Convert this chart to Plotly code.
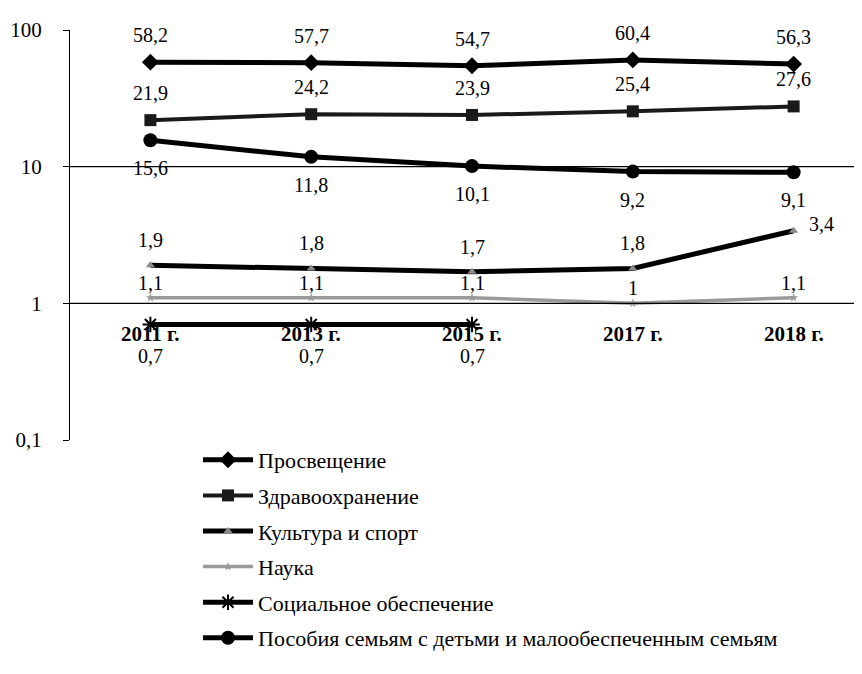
"""Расходы бюджета по направлениям, % (логарифмическая шкала)"""
import math

import plotly.graph_objects as go

years = ["2011 г.", "2013 г.", "2015 г.", "2017 г.", "2018 г."]

prosveshchenie = [58.2, 57.7, 54.7, 60.4, 56.3]
zdravookhranenie = [21.9, 24.2, 23.9, 25.4, 27.6]
kultura_sport = [1.9, 1.8, 1.7, 1.8, 3.4]
nauka = [1.1, 1.1, 1.1, 1.0, 1.1]
sots_obespechenie = [0.7, 0.7, 0.7]
posobiya = [15.6, 11.8, 10.1, 9.2, 9.1]

y_ticks = [0.1, 1, 10, 100]
y_tick_labels = ["0,1", "1", "10", "100"]

FONT = "Liberation Serif, Times New Roman, serif"

# name, values, line colour, line width, marker, label shift (px)
series = [
    ("Просвещение", prosveshchenie, "black", 5,
     dict(symbol="diamond", size=13, color="black"), 27),
    ("Здравоохранение", zdravookhranenie, "#1a1a1a", 4,
     dict(symbol="square", size=12, color="#1a1a1a"), 27),
    ("Культура и спорт", kultura_sport, "black", 5,
     dict(symbol="triangle-up", size=8, color="#8a8a8a"), 25),
    ("Наука", nauka, "#9a9a9a", 3.5,
     dict(symbol="star", size=7, color="#9a9a9a"), 15),
    ("Социальное обеспечение", sots_obespechenie, "black", 5,
     dict(symbol="asterisk-open", size=13, color="black",
          line=dict(color="black", width=2)), -31),
    ("Пособия семьям с детьми и малообеспеченным семьям", posobiya, "black", 5,
     dict(symbol="circle", size=14, color="black"), -28),
]


def fmt(v):
    return f"{v:g}".replace(".", ",")


fig = go.Figure()

for i, (name, vals, color, width, marker, shift) in enumerate(series):
    fig.add_trace(go.Scatter(
        x=years[:len(vals)],
        y=vals,
        mode="lines+markers",
        name=name,
        legendgroup=f"g{i}",
        line=dict(color=color, width=width),
        marker=marker,
    ))
    for j, v in enumerate(vals):
        xshift, ys = 0, shift
        # подпись последней точки "Культура и спорт" стоит справа
        if name == "Культура и спорт" and j == len(vals) - 1:
            xshift, ys = 28, 7
        fig.add_annotation(
            x=years[j], y=math.log10(v),
            text=fmt(v), showarrow=False,
            xshift=xshift, yshift=ys,
            font=dict(family=FONT, size=20, color="black"),
        )

# подписи годов под линией 1
for yr in years:
    fig.add_annotation(
        x=yr, y=0, text=f"<b>{yr}</b>", showarrow=False,
        yshift=-31, font=dict(family=FONT, size=21, color="black"),
    )

# линии сетки на 10 и 1
fig.add_hline(y=10, line_color="black", line_width=1.2)
fig.add_hline(y=1, line_color="black", line_width=1.2)

fig.update_layout(
    width=862,
    height=674,
    margin=dict(l=62, r=0, t=22, b=242, autoexpand=False),
    plot_bgcolor="white",
    paper_bgcolor="white",
    separators=", ",
    font=dict(family=FONT, size=20, color="black"),
    xaxis=dict(
        type="category",
        categoryorder="array",
        categoryarray=years,
        range=[-0.5, 4.475],
        showline=False,
        showgrid=False,
        showticklabels=False,
        ticks="",
        automargin=False,
        fixedrange=True,
    ),
    yaxis=dict(
        type="log",
        range=[-1, 2],
        tickvals=y_ticks,
        ticktext=y_tick_labels,
        showline=True,
        linecolor="black",
        linewidth=1.2,
        ticks="outside",
        ticklen=6,
        tickcolor="black",
        showgrid=False,
        zeroline=False,
        automargin=False,
        ticklabelstandoff=17,
        tickfont=dict(family=FONT, size=21, color="black"),
        fixedrange=True,
    ),
    showlegend=True,
    legend=dict(
        x=128 / 800,
        y=(432 - 431) / 410,
        xanchor="left",
        yanchor="top",
        itemwidth=50,
        tracegroupgap=4,
        traceorder="grouped",
        font=dict(family=FONT, size=22, color="black"),
        bgcolor="rgba(0,0,0,0)",
    ),
)

fig.write_html("out.html")
